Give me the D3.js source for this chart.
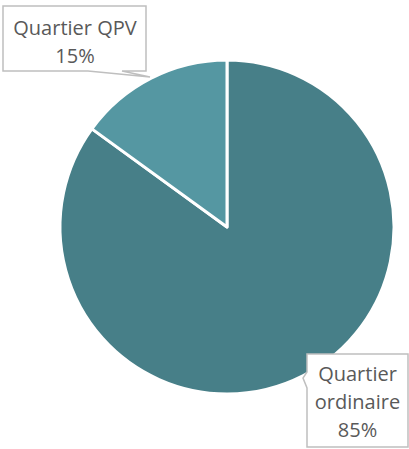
<!DOCTYPE html>
<html>
<head>
<meta charset="utf-8">
<script src="https://cdn.jsdelivr.net/npm/d3@7"></script>
<style>
  body { margin: 0; background: #fff; }
  svg { display: block; }
</style>
</head>
<body>
<svg id="chart" width="409" height="449"></svg>
<script>
// données
var categories = ["Quartier ordinaire", "Quartier QPV"];
var values = [85, 15];
var colors = ["#477f88", "#5597a2"];

var svg = d3.select("#chart"),
    cx = 227, cy = 227, radius = 167;

var pie = d3.pie().sort(null).value(function(d) { return d.value; });
var arc = d3.arc().innerRadius(0).outerRadius(radius);

var data = categories.map(function(c, i) {
  return { name: c, value: values[i], color: colors[i] };
});

var g = svg.append("g").attr("transform", "translate(" + cx + "," + cy + ")");

g.selectAll("path")
  .data(pie(data))
  .enter().append("path")
    .attr("d", arc)
    .attr("fill", function(d) { return d.data.color; })
    .attr("stroke", "#fff")
    .attr("stroke-width", 3)
    .attr("stroke-linejoin", "round");

// étiquettes (bulles)
var labels = [
  { // Quartier ordinaire
    path: "M307,354 H408 V447 H307 V388 L303,378 L307,372 Z",
    lines: ["Quartier", "ordinaire", values[0] + "%"],
    x: 357.5, y0: 381
  },
  { // Quartier QPV
    path: "M3,6 H146 V71 H122 L150,77 L88,71 H3 Z",
    lines: ["Quartier QPV", values[1] + "%"],
    x: 75, y0: 35
  }
];

labels.forEach(function(l) {
  svg.append("path")
    .attr("d", l.path)
    .attr("fill", "#fff")
    .attr("stroke", "#bfbfbf")
    .attr("stroke-width", 1.5);

  var t = svg.append("text")
    .attr("text-anchor", "middle")
    .attr("font-family", "'Open Sans', sans-serif")
    .attr("font-size", 20)
    .attr("fill", "#595959");
  l.lines.forEach(function(s, i) {
    t.append("tspan")
      .attr("x", l.x)
      .attr("y", l.y0 + i * 28)
      .text(s);
  });
});
</script>
</body>
</html>
